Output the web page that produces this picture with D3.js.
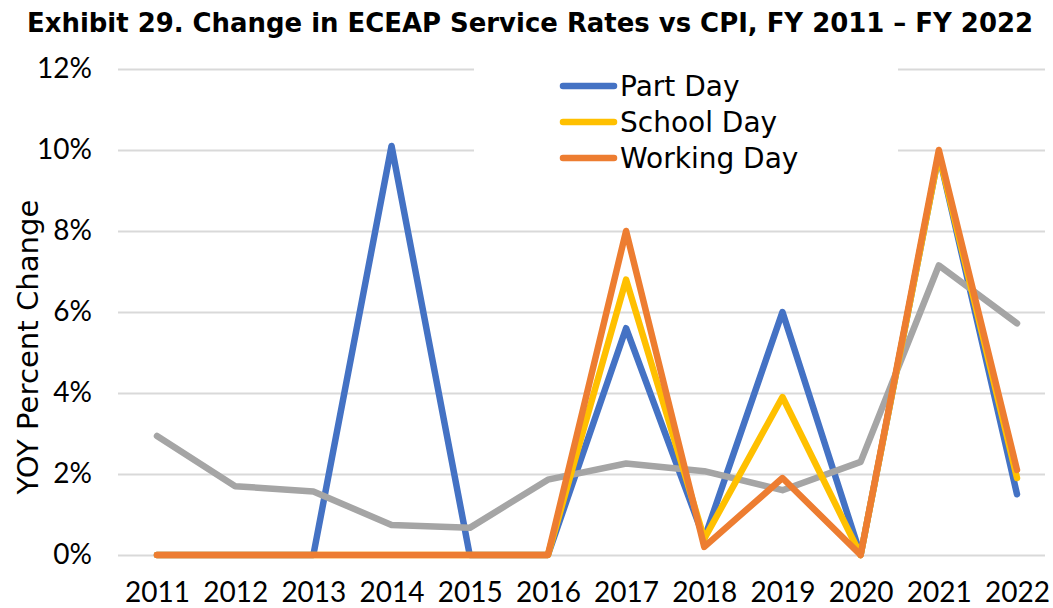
<!DOCTYPE html>
<html lang="en">
<head>
	<meta charset="utf-8">
	<title>ECEAP Service Rates vs CPI</title>
	<script src="https://d3js.org/d3.v7.min.js"></script>
	<style>
	body { margin: 0; background: #fff; }
	text { font-family: "DejaVu Sans", sans-serif; fill: #000; }
	.tick text { font-family: Lato, sans-serif; font-size: 28px; }
	</style>
</head>
<body>
	<script>
	// chart data (YOY % change)
	var years = ["2011","2012","2013","2014","2015","2016","2017","2018","2019","2020","2021","2022"];
	var partDay    = [0, 0, 0, 10.1, 0, 0, 5.6, 0.4, 6.0, 0, 9.9, 1.5];
	var schoolDay  = [0, 0, 0, 0, 0, 0, 6.8, 0.4, 3.9, 0, 9.9, 1.9];
	var workingDay = [0, 0, 0, 0, 0, 0, 8.0, 0.2, 1.9, 0, 10.0, 2.1];
	var cpi        = [2.94, 1.7, 1.57, 0.74, 0.67, 1.86, 2.26, 2.07, 1.6, 2.3, 7.15, 5.72];
	var yTicks = [0, 2, 4, 6, 8, 10, 12];

	var w = 1053, h = 608;
	var plotLeft = 118, plotRight = 1045, plotTop = 69, plotBottom = 555;

	var svg = d3.select("body").append("svg")
		.attr("width", w)
		.attr("height", h);

	// scales
	var x = d3.scalePoint()
		.domain(years)
		.range([157, 1017]);
	var y = d3.scaleLinear()
		.domain([0, 12])
		.range([plotBottom, plotTop]);

	// y axis + gridlines
	var yAxis = svg.append("g")
		.attr("transform", "translate(" + plotLeft + ",0)")
		.call(d3.axisLeft(y).tickValues(yTicks)
			.tickFormat(function(d) { return d + "%"; })
			.tickSize(-(plotRight - plotLeft))
			.tickPadding(26));
	yAxis.select(".domain").remove();
	yAxis.selectAll(".tick line").attr("stroke", "#d9d9d9").attr("stroke-width", 2);

	// x axis labels
	var xAxis = svg.append("g")
		.attr("transform", "translate(0," + plotBottom + ")")
		.call(d3.axisBottom(x).tickSize(0).tickPadding(27));
	xAxis.select(".domain").remove();

	// legend background hides the top gridlines
	svg.append("rect")
		.attr("x", 474).attr("y", 58)
		.attr("width", 424).attr("height", 118)
		.attr("fill", "#fff");

	var line = d3.line()
		.x(function(d, i) { return x(years[i]); })
		.y(function(d) { return y(d); });

	var series = [
		{ name: "Part Day", values: partDay, color: "#4472c4" },
		{ name: "CPI", values: cpi, color: "#a5a5a5" },
		{ name: "School Day", values: schoolDay, color: "#ffc000" },
		{ name: "Working Day", values: workingDay, color: "#ed7d31" }
	];

	svg.selectAll("path.series")
		.data(series)
		.enter()
		.append("path")
		.attr("class", "series")
		.attr("d", function(d) { return line(d.values); })
		.attr("fill", "none")
		.attr("stroke", function(d) { return d.color; })
		.attr("stroke-width", 6.5)
		.attr("stroke-linejoin", "round")
		.attr("stroke-linecap", "round");

	// legend (CPI is not listed)
	var legendItems = series.filter(function(d) { return d.name !== "CPI"; });
	var lg = svg.selectAll("g.legend")
		.data(legendItems)
		.enter()
		.append("g")
		.attr("class", "legend")
		.attr("transform", function(d, i) { return "translate(0," + (86 + i * 36) + ")"; });
	lg.append("line")
		.attr("x1", 563).attr("x2", 614)
		.attr("stroke", function(d) { return d.color; })
		.attr("stroke-width", 6.5)
		.attr("stroke-linecap", "round");
	lg.append("text")
		.attr("x", 620)
		.attr("dy", "0.36em")
		.style("font-size", "28px")
		.text(function(d) { return d.name; });

	// title
	svg.append("text")
		.attr("x", 27)
		.attr("y", 32)
		.attr("textLength", 1006)
		.attr("lengthAdjust", "spacingAndGlyphs")
		.style("font-size", "26px")
		.style("font-weight", "bold")
		.text("Exhibit 29. Change in ECEAP Service Rates vs CPI, FY 2011 \u2013 FY 2022");

	// y axis title
	svg.append("text")
		.attr("text-anchor", "middle")
		.attr("transform", "translate(38, 347) rotate(-90)")
		.attr("textLength", 295)
		.attr("lengthAdjust", "spacingAndGlyphs")
		.style("font-size", "28px")
		.text("YOY Percent Change");
	</script>
</body>
</html>
